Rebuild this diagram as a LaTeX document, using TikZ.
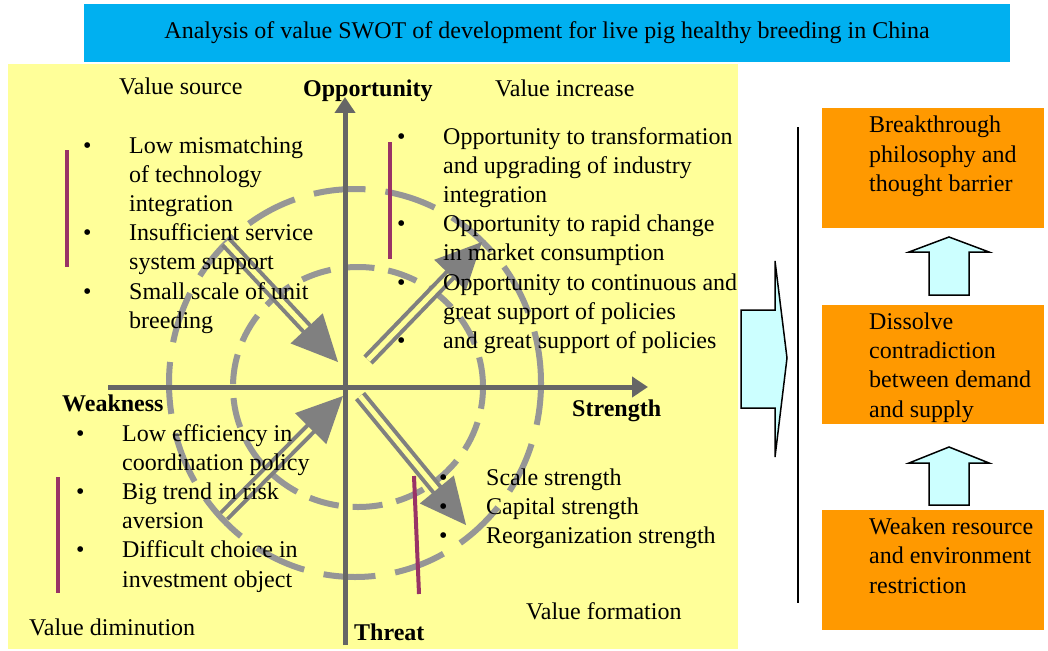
\documentclass[tikz,border=0pt]{standalone}
\usepackage{fontspec}
\setmainfont{Liberation Serif}
\usetikzlibrary{arrows.meta,calc}
\definecolor{bannerblue}{RGB}{0,176,240}
\definecolor{paleyellow}{RGB}{255,255,153}
\definecolor{orangebox}{RGB}{255,153,0}
\definecolor{palecyan}{RGB}{204,255,255}
\definecolor{plum}{RGB}{153,51,102}
\definecolor{axisgray}{RGB}{102,102,102}
\definecolor{ringgray}{RGB}{150,150,150}
\definecolor{arrowgray}{RGB}{128,128,128}
\newcommand\swotarrow[2]{%
  \draw[shaft] (#1) -- ($(#2)!40pt!(#1)$);
  \fill[arrowhead] (#2) -- ($(#2)!51pt!25.6:(#1)$) -- ($(#2)!51pt!-25.6:(#1)$) -- cycle;}
\begin{document}
\begin{tikzpicture}[x=1pt,y=-1pt,
  every node/.style={inner sep=0pt, font=\fontsize{24pt}{29.2pt}\selectfont},
  lbl/.style={anchor=base west},
  boldlbl/.style={anchor=base west, font=\fontsize{24pt}{29.2pt}\selectfont\bfseries},
  ring/.style={draw=ringgray, line width=6pt},
  axis/.style={draw=axisgray, line width=5pt, -{Triangle[length=16pt,width=20pt]}},
  shaft/.style={draw=arrowgray, line width=4pt, double=paleyellow, double distance=5pt},
  arrowhead/.style={fill=arrowgray},
  bar/.style={draw=plum, line width=4pt},
  stepbox/.style={fill=orangebox, anchor=north west, minimum width=222pt},
  boxtext/.style={anchor=base west, font=\fontsize{24pt}{29.3pt}\selectfont},
  blockarrow/.style={fill=palecyan, draw=black, line width=1.5pt, line join=miter}
]
\useasboundingbox (0,0) rectangle (1048,650);
% banner
\fill[bannerblue] (84,4) rectangle (1010,62);
\node[anchor=base] (title) at (547,39) {Analysis of value SWOT of development for live pig healthy breeding in China};
% yellow panel
\fill[paleyellow] (8,64) rectangle (738,649);
% rings
\draw[ring, dash pattern=on 52pt off 20pt] (355,383) ellipse [x radius=186pt, y radius=194pt];
\draw[ring, dash pattern=on 30pt off 14pt] (358,387) ellipse [x radius=125pt, y radius=120pt];
% axes
\coordinate (vbot) at (345,645);
\coordinate (vtop) at (345,97);
\coordinate (hleft) at (108,387);
\coordinate (hright) at (648,387);
\draw[axis] (vbot) -- (vtop);
\draw[axis] (hleft) -- (hright);
% double arrows
\coordinate (a1s) at (226,242); \coordinate (a1e) at (338,362);
\coordinate (a2s) at (368,360); \coordinate (a2e) at (482,242);
\coordinate (a3s) at (360,396); \coordinate (a3e) at (466,525);
\coordinate (a4s) at (224,516); \coordinate (a4e) at (343,396);
\swotarrow{a1s}{a1e}
\swotarrow{a2s}{a2e}
\swotarrow{a3s}{a3e}
\swotarrow{a4s}{a4e}
% purple bars
\draw[bar] (67,150) -- (67,267);
\draw[bar] (390,142) -- (390,259);
\draw[bar] (58,477) -- (58,593);
\draw[bar] (414,476) -- (419,594);
% quadrant labels
\node[lbl] (vsrc) at (119,95) {Value source};
\node[boldlbl] (opp) at (303,96) {Opportunity};
\node[lbl] (vinc) at (495,96.7) {Value increase};
\node[boldlbl] (weak) at (62,411.7) {Weakness};
\node[boldlbl] (str) at (572,416.7) {Strength};
\node[lbl] (vform) at (526,619.3) {Value formation};
\node[lbl] (vdim) at (29,635.7) {Value diminution};
\node[boldlbl] (thr) at (354,640.7) {Threat};
% lists
\node[lbl] (tl) at (83,153) {\begin{tabular}[t]{@{}p{46pt}@{}l@{}}
\textbullet & Low mismatching\\
 & of technology\\
 & integration\\
\textbullet & Insufficient service\\
 & system support\\
\textbullet & Small scale of unit\\
 & breeding
\end{tabular}};
\node[lbl] (tr) at (397,144) {\begin{tabular}[t]{@{}p{46pt}@{}l@{}}
\textbullet & Opportunity to transformation\\
 & and upgrading of industry\\
 & integration\\
\textbullet & Opportunity to rapid change\\
 & in market consumption\\
\textbullet & Opportunity to continuous and\\
 & great support of policies\\
\textbullet & and great support of policies
\end{tabular}};
\node[lbl] (bl) at (76,441) {\begin{tabular}[t]{@{}p{46pt}@{}l@{}}
\textbullet & Low efficiency in\\
 & coordination policy\\
\textbullet & Big trend in risk\\
 & aversion\\
\textbullet & Difficult choice in\\
 & investment object
\end{tabular}};
\node[lbl] (br) at (439,485) {\begin{tabular}[t]{@{}p{47pt}@{}l@{}}
\textbullet & Scale strength\\
\textbullet & Capital strength\\
\textbullet & Reorganization strength
\end{tabular}};
% right side
\draw[blockarrow] (741,310) -- (775,310) -- (775,261) -- (787,358) -- (775,457) -- (775,408) -- (741,408) -- cycle;
\coordinate (vl1) at (798,127);
\coordinate (vl2) at (798,603);
\draw[line width=1.5pt] (vl1) -- (vl2);
\node[stepbox, minimum height=120pt] (b1) at (822,108) {};
\node[stepbox, minimum height=119pt] (b2) at (822,305) {};
\node[stepbox, minimum height=120pt] (b3) at (822,510) {};
\node[boxtext] (t1) at (869,132.8) {\begin{tabular}[t]{@{}l@{}}Breakthrough\\ philosophy and\\ thought barrier\end{tabular}};
\node[boxtext] (t2) at (869,329.3) {\begin{tabular}[t]{@{}l@{}}Dissolve\\ contradiction\\ between demand\\ and supply\end{tabular}};
\node[boxtext] (t3) at (869,534.5) {\begin{tabular}[t]{@{}l@{}}Weaken resource\\ and environment\\ restriction\end{tabular}};
\draw[blockarrow] (949,237) -- (989,252) -- (969,252) -- (969,295) -- (929,295) -- (929,252) -- (909,252) -- cycle;
\draw[blockarrow] (949,447) -- (989,463) -- (969,463) -- (969,505) -- (929,505) -- (929,463) -- (909,463) -- cycle;
\end{tikzpicture}
\end{document}
